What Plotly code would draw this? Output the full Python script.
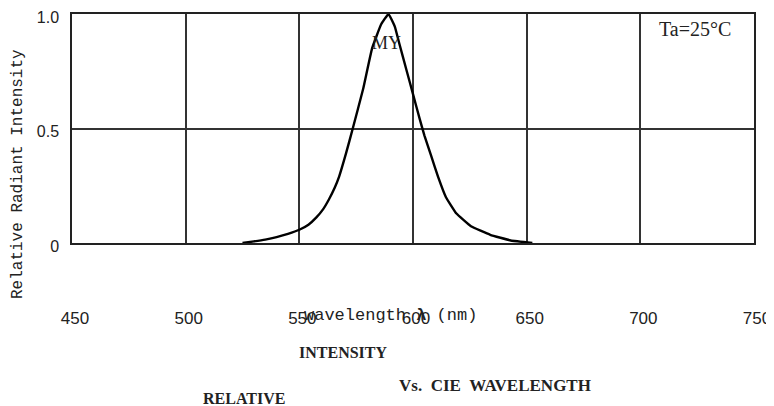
import plotly.graph_objects as go

# Spectrum (wavelength nm, relative radiant intensity)
wavelength = [525, 530, 535, 540, 545, 550, 554, 557.5, 560.5, 563, 565.5, 567.5, 570.5, 573.5,
              578, 582, 586, 589.2, 592, 594, 597, 600, 603, 605, 608, 611, 614.5, 619,
              625.5, 634, 643, 652.5]
intensity = [0.0, 0.007, 0.015, 0.026, 0.04, 0.058, 0.08, 0.112, 0.148, 0.19, 0.24, 0.29, 0.39, 0.50,
             0.67, 0.85, 0.955, 1.0, 0.945, 0.87, 0.76, 0.65, 0.54, 0.47, 0.38, 0.29, 0.20, 0.13,
             0.073, 0.036, 0.011, 0.0]

x_ticks = [450, 500, 550, 600, 650, 700, 750]
x_tick_labels = ["450", "500", "550", "600", "650", "700", "750"]
y_ticks = [0, 0.5, 1.0]
y_tick_labels = ["0", "0.5", "1.0"]

fig = go.Figure()
fig.add_trace(go.Scatter(x=wavelength, y=intensity, mode="lines",
                         line=dict(color="black", width=2.4, shape="spline", smoothing=0.3),
                         showlegend=False, hoverinfo="skip"))

serif = "Liberation Serif"
mono = "Liberation Mono"

# the page body adds an 8px offset; compensate in the margins
fig.update_layout(
    width=774, height=406,
    margin=dict(l=64, r=28, t=6, b=171, autoexpand=False),
    paper_bgcolor="white", plot_bgcolor="white",
    xaxis=dict(range=[450, 750], tickvals=x_ticks, ticktext=x_tick_labels,
               showgrid=True, gridcolor="#333", gridwidth=1.6, zeroline=False,
               showline=True, linecolor="#222", linewidth=1.5, mirror=True,
               ticks="", ticklabelstandoff=59, ticklabelshift=3,
               automargin=False, ticklabeloverflow="allow",
               tickfont=dict(family="Liberation Sans", size=17, color="#222")),
    yaxis=dict(range=[0, 1], tickvals=y_ticks, ticktext=y_tick_labels,
               showgrid=True, gridcolor="#333", gridwidth=1.6, zeroline=False,
               showline=True, linecolor="#222", linewidth=1.5, mirror=True,
               ticks="", ticklabelstandoff=8, ticklabelshift=3,
               automargin=False, ticklabeloverflow="allow",
               tickfont=dict(family="Liberation Sans", size=16, color="#222")),
    annotations=[
        dict(text="MY", x=588.4, y=0.872, xref="x", yref="y", showarrow=False,
             font=dict(family=serif, size=18, color="#222")),
        dict(text="Ta=25°C", x=724.2, y=0.935, xref="x", yref="y", showarrow=False,
             font=dict(family=serif, size=20, color="#222")),
        dict(text="Relative Radiant Intensity", x=18, y=174, xref="paper", yref="paper",
             showarrow=False, textangle=-90,
             font=dict(family=mono, size=16, color="#222")),
        dict(text="wavelength\u00a0<b>λ</b>\u00a0(nm)", x=390, y=315, xref="paper", yref="paper",
             showarrow=False, font=dict(family=mono, size=17, color="#222")),
        dict(text="<b>INTENSITY</b>", x=343, y=352, xref="paper", yref="paper",
             showarrow=False, font=dict(family=serif, size=16, color="#222")),
        dict(text="<b>Vs.\u00a0\u00a0CIE\u00a0\u00a0WAVELENGTH</b>", x=495, y=385, xref="paper", yref="paper",
             showarrow=False, font=dict(family=serif, size=17, color="#222")),
        dict(text="<b>RELATIVE</b>", x=244, y=398, xref="paper", yref="paper",
             showarrow=False, font=dict(family=serif, size=16, color="#222")),
    ],
)

# convert on-screen pixel positions of paper annotations into paper fractions
plot_l, plot_r, plot_t, plot_b = 72, 754, 14, 243
for a in fig.layout.annotations:
    if a.xref == "paper":
        px, py = a.x, a.y
        a.x = (px - plot_l) / (plot_r - plot_l)
        a.y = (plot_b - py) / (plot_b - plot_t)
        a.xanchor = "center"
        a.yanchor = "middle"

fig.write_html("out.html")
